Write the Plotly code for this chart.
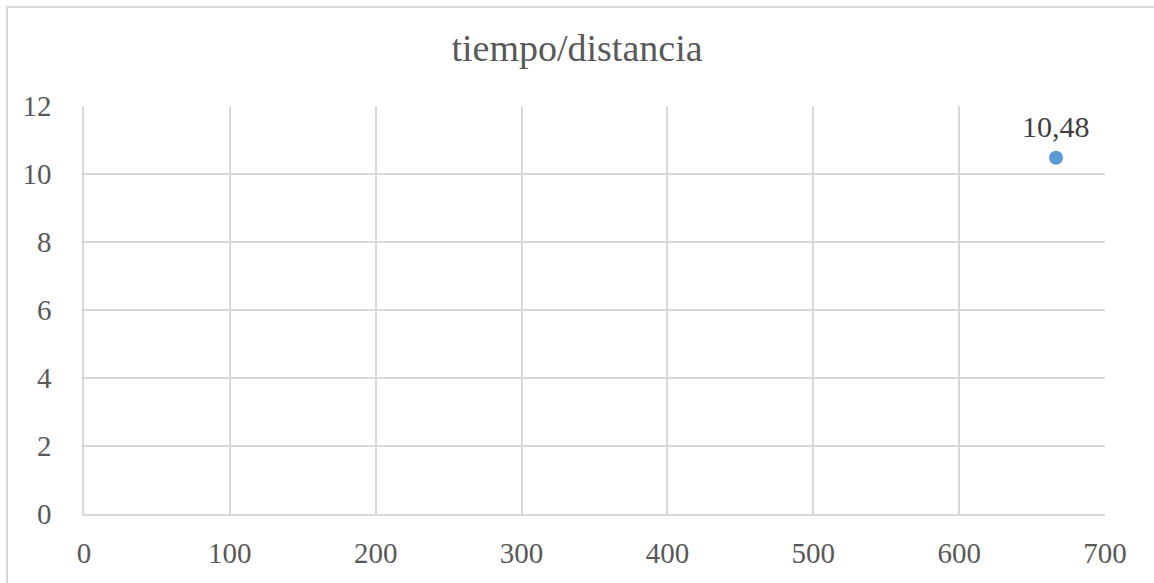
import plotly.graph_objects as go

# tiempo vs distancia
distancia = [666.4]
tiempo = [10.48]

x_ticks = [0, 100, 200, 300, 400, 500, 600, 700]
y_ticks = [0, 2, 4, 6, 8, 10, 12]

font_family = "Liberation Serif"
text_grey = "#595959"
grid_grey = "#d9d9d9"

fig = go.Figure()
fig.add_trace(go.Scatter(
    x=distancia,
    y=tiempo,
    mode="markers",
    marker=dict(size=14, color="#5B9BD5"),
    cliponaxis=False,
    showlegend=False,
))

# data labels above each point
for xv, yv in zip(distancia, tiempo):
    fig.add_annotation(
        x=xv, y=yv,
        text=f"{yv:.2f}".replace(".", ","),
        showarrow=False,
        yanchor="bottom",
        yshift=13,
        font=dict(family=font_family, size=30, color="#404040"),
    )

fig.update_layout(
    width=1154,
    height=583,
    paper_bgcolor="white",
    plot_bgcolor="white",
    separators=",.",
    margin=dict(l=84, r=49, t=106, b=69),
    title=dict(
        text="tiempo/distancia",
        x=0.5,
        xanchor="center",
        y=1 - 48 / 583,
        yanchor="middle",
        font=dict(family=font_family, size=38, color=text_grey),
    ),
    font=dict(family=font_family, size=29, color=text_grey),
    shapes=[dict(
        type="rect", xref="paper", yref="paper",
        x0=-77 / 1021, x1=1.2, y0=-0.5, y1=1 + 99 / 408,
        line=dict(color=grid_grey, width=2), layer="below",
    )],
)

fig.update_xaxes(
    range=[0, 700],
    tickvals=x_ticks,
    showgrid=True, gridcolor=grid_grey, gridwidth=1.5,
    showline=True, linecolor=grid_grey, linewidth=1.5,
    zeroline=False,
    ticks="outside", ticklen=12, tickcolor="rgba(0,0,0,0)",
    tickfont=dict(family=font_family, size=29, color=text_grey),
)
fig.update_yaxes(
    range=[0, 12],
    tickvals=y_ticks,
    showgrid=True, gridcolor=grid_grey, gridwidth=1.5,
    showline=True, linecolor=grid_grey, linewidth=1.5,
    zeroline=False,
    ticks="outside", ticklen=25, tickcolor="rgba(0,0,0,0)",
    tickfont=dict(family=font_family, size=29, color=text_grey),
)

fig.write_html("out.html")
